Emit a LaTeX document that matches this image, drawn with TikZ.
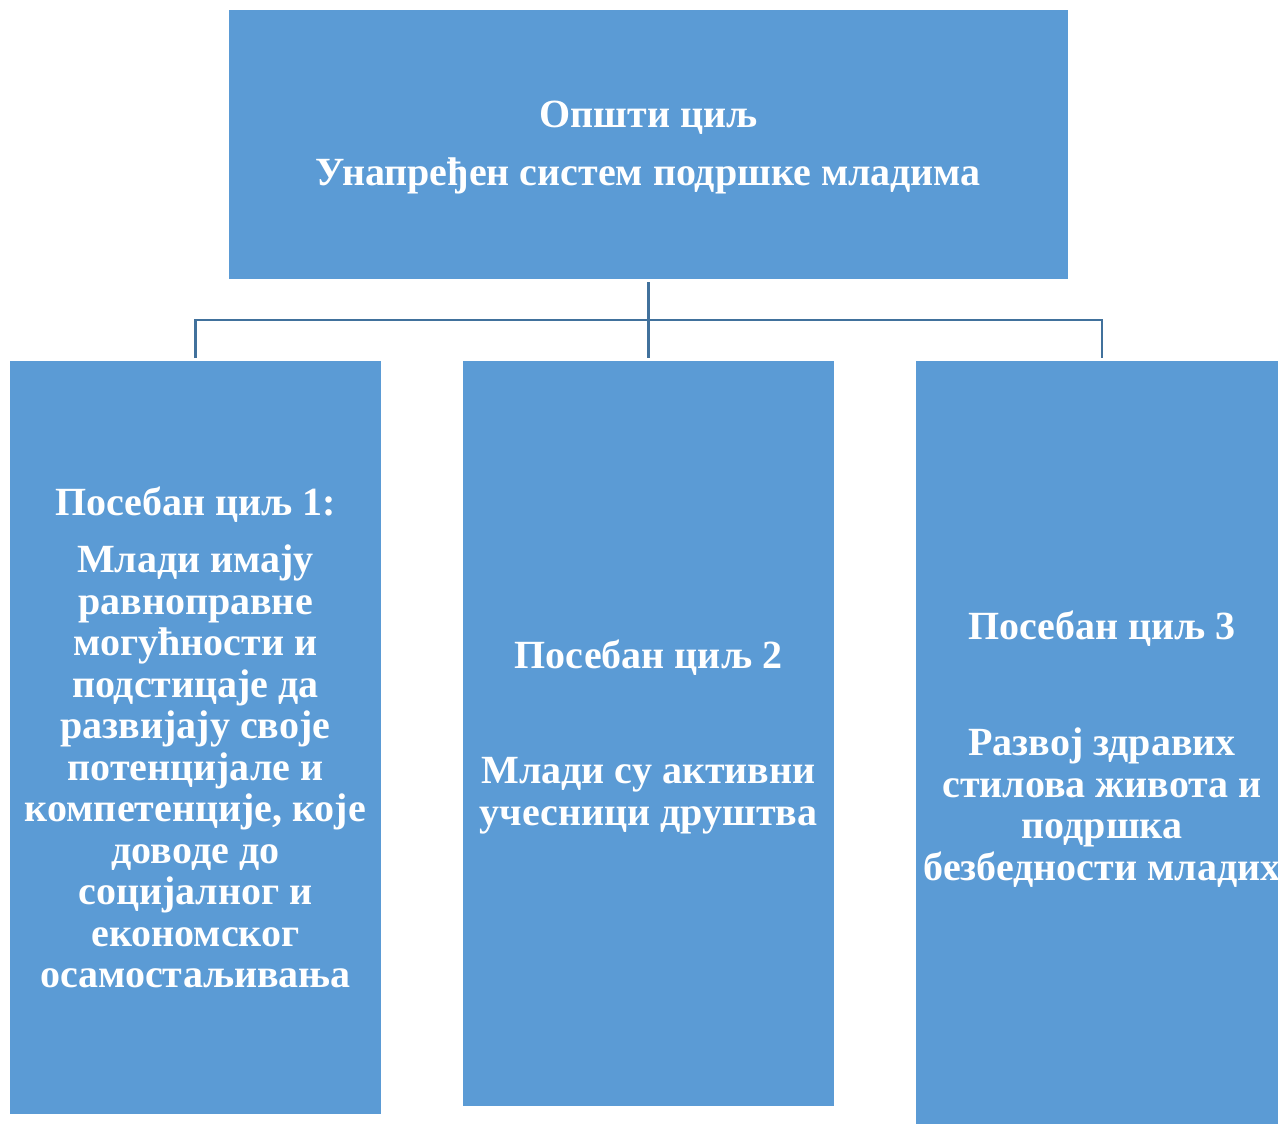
\documentclass[tikz,border=0pt]{standalone}
\usepackage{fontspec}
\setmainfont{Liberation Serif}
\definecolor{boxblue}{HTML}{5B9BD5}
\definecolor{linkblue}{HTML}{41719C}
\begin{document}
\begin{tikzpicture}[x=1bp,y=-1bp,
  box/.style={fill=boxblue, draw=none, inner sep=0pt, outer sep=0pt},
  label/.style={inner sep=0pt, text=white, align=center,
    font=\fontsize{40bp}{41.5bp}\selectfont\bfseries},
  conn/.style={draw=linkblue, line width=2.5bp}]
\useasboundingbox (0,0) rectangle (1278,1124);
\node[box, minimum width=839bp, minimum height=269bp] (top) at (648.5,144.5) {};
\node[box, minimum width=371bp, minimum height=753bp] (b1) at (195.5,737.5) {};
\node[box, minimum width=371bp, minimum height=745bp] (b2) at (648.5,733.5) {};
\node[box, minimum width=372bp, minimum height=769bp] (b3) at (1102,745.5) {};
\node[label] (ttop) at (648.5,147.5)
  {Општи циљ\\[16.5bp]Унапређен систем подршке младима};
\node[label] (t1) at (195.5,737.5)
  {Посебан циљ 1:\\[15.5bp]Млади имају\\равноправне\\могућности и\\подстицаје да\\развијају своје\\потенцијале и\\компетенције, које\\доводе до\\социјалног и\\економског\\осамостаљивања};
\node[label] (t2) at (648.5,737)
  {Посебан циљ 2\\[73.5bp]Млади су активни\\учесници друштва};
\node[label] (t3) at (1102,749)
  {Посебан циљ 3\\[74.5bp]Развој здравих\\стилова живота и\\подршка\\безбедности младих};
\coordinate (bar) at (648,320);
\draw[conn] ([yshift=-3bp]top.south) -- ([yshift=3bp]b2.north);
\draw[conn] ([yshift=3bp]b1.north) |- (bar) -| ([yshift=3bp]b3.north);
\end{tikzpicture}
\end{document}
